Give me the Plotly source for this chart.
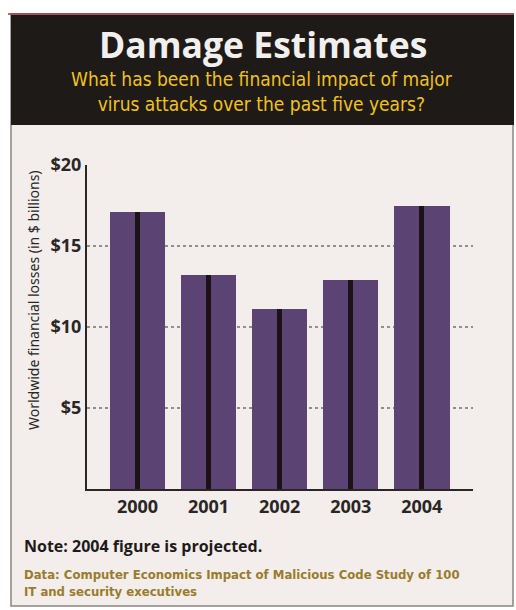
import plotly.graph_objects as go

years = ["2000", "2001", "2002", "2003", "2004"]
losses = [17.1, 13.2, 11.1, 12.9, 17.5]
y_ticks = [5, 10, 15, 20]
y_tick_labels = ["$5", "$10", "$15", "$20"]

W, H = 516, 610
PL, PR, PT, PB = 87, 473, 165, 489  # plot area pixels


def px(x):
    return (x - PL) / (PR - PL)


def py(y):
    return (PB - y) / (PB - PT)


COND = "DejaVu Sans Condensed"

fig = go.Figure()
fig.add_trace(go.Bar(x=years, y=losses, width=0.78, marker=dict(color="#5b4373", line=dict(width=0)),
                     hoverinfo="skip"))
fig.add_trace(go.Bar(x=years, y=losses, width=0.07, marker=dict(color="#1c1218", line=dict(width=0)),
                     hoverinfo="skip"))

shapes = [
    dict(type="rect", xref="paper", yref="paper", x0=px(11), x1=px(513), y0=py(606), y1=py(14),
         fillcolor="#f3eeec", line=dict(color="#8a8580", width=1.5), layer="below"),
    dict(type="rect", xref="paper", yref="paper", x0=px(11), x1=px(514), y0=py(125), y1=py(15),
         fillcolor="#1e1a17", line=dict(width=0), layer="below"),
    dict(type="line", xref="paper", yref="paper", x0=px(8), x1=px(514), y0=py(14), y1=py(14),
         line=dict(color="#a0353c", width=1.5)),
]

annotations = [
    dict(text="<b>Damage Estimates</b>", x=px(263), y=py(44), xref="paper", yref="paper", showarrow=False,
         font=dict(family="Open Sans", size=35.5, color="#f2f0ee"), xanchor="center", yanchor="middle"),
    dict(text="What has been the financial impact of major<br>virus attacks over the past five years?",
         x=px(262), y=py(91), xref="paper", yref="paper", showarrow=False,
         font=dict(family=COND, size=19, color="#f1c21c"),
         xanchor="center", yanchor="middle", align="center"),
    dict(text="<b>Note: 2004 figure is projected.</b>", x=px(22), y=py(546), xref="paper", yref="paper",
         showarrow=False, font=dict(family="Open Sans", size=16, color="#1e1a1a"),
         xanchor="left", yanchor="middle"),
    dict(text="<b>Data: Computer Economics Impact of Malicious Code Study of 100<br>IT and security executives</b>",
         x=px(22), y=py(583), xref="paper", yref="paper", showarrow=False, align="left",
         font=dict(family=COND, size=13, color="#9a7b2c"),
         xanchor="left", yanchor="middle"),
    dict(text="Worldwide financial losses (in $ billions)", x=px(33), y=py(300), xref="paper", yref="paper",
         showarrow=False, textangle=-90, font=dict(family="Noto Sans", size=14, color="#2a2626"),
         xanchor="center", yanchor="middle"),
]

fig.update_layout(
    width=W, height=H,
    margin=dict(l=PL, r=W - PR, t=PT, b=H - PB),
    paper_bgcolor="white", plot_bgcolor="rgba(0,0,0,0)",
    barmode="overlay", showlegend=False, bargap=0,
    shapes=shapes, annotations=annotations,
    font=dict(family="Open Sans"),
)
fig.update_xaxes(range=[-0.71, 4.72], showgrid=False, showline=True, linecolor="#2a2626", linewidth=2,
                 ticks="", tickfont=dict(family="Open Sans", size=18, color="#2a2626", weight="bold"),
                 fixedrange=True)
fig.update_yaxes(range=[0, 20], tickvals=y_ticks, ticktext=y_tick_labels, showline=True,
                 linecolor="#2a2626", linewidth=2, showgrid=True, gridcolor="#8f8f8f", griddash="dot",
                 gridwidth=2, zeroline=False, ticks="", ticklen=0,
                 tickfont=dict(family="Open Sans", size=18, color="#2a2626", weight="bold"),
                 fixedrange=True)

fig.write_html("out.html")
